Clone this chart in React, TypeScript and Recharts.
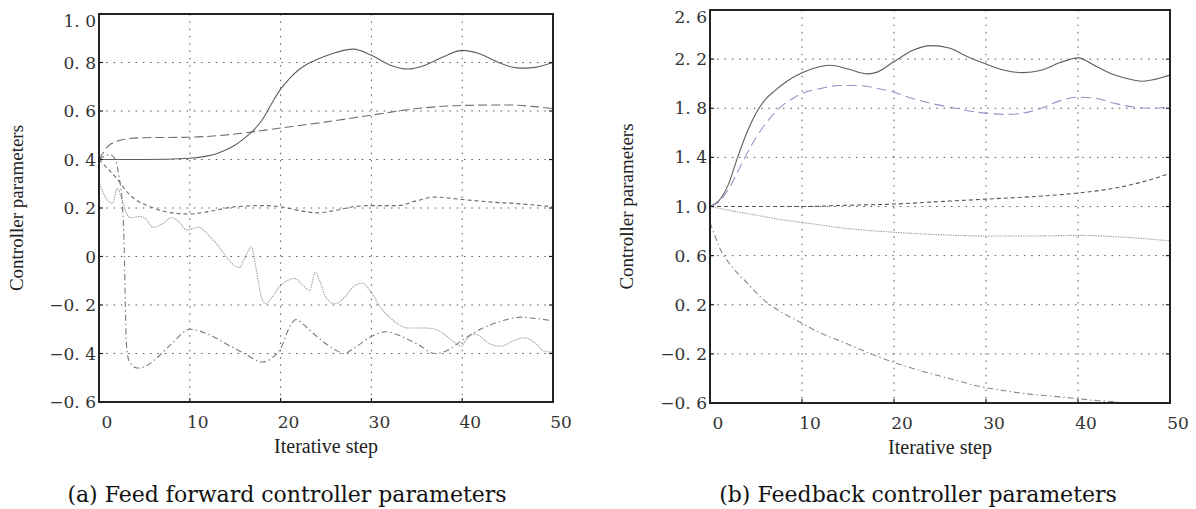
import { CartesianGrid, Line, LineChart, ReferenceArea, XAxis, YAxis } from "recharts";

// x ticks are shared by both panels
const xTicks = [0, 10, 20, 30, 40, 50];
const ffYTicks = [-0.6, -0.4, -0.2, 0, 0.2, 0.4, 0.6, 0.8, 1.0];
const fbYTicks = [-0.6, -0.2, 0.2, 0.6, 1.0, 1.4, 1.8, 2.2, 2.6];

// (a) feed forward controller parameters, [step, value]
const ffSolid: [number, number][] = [
  [0, 0.4], [5, 0.4], [10, 0.405], [12, 0.415], [13, 0.425], [14, 0.44], [15, 0.46],
  [16, 0.487], [17, 0.52], [18, 0.565], [19, 0.63], [20, 0.69], [21, 0.735], [22, 0.77],
  [23, 0.795], [24, 0.812], [26, 0.84], [28, 0.855], [30, 0.83], [32, 0.79], [34, 0.773],
  [36, 0.79], [38, 0.825], [40, 0.85], [42, 0.835], [44, 0.8], [46, 0.778], [47, 0.777],
  [48, 0.78], [50, 0.8],
];
const ffLongDash: [number, number][] = [
  [0, 0.4], [0.5, 0.43], [1, 0.455], [2, 0.475], [3, 0.485], [5, 0.49], [10, 0.492],
  [15, 0.505], [20, 0.53], [25, 0.555], [30, 0.583], [35, 0.61], [40, 0.623], [45, 0.625],
  [48, 0.618], [50, 0.61],
];
const ffDash: [number, number][] = [
  [0, 0.4], [1, 0.36], [2, 0.32], [3, 0.27], [4, 0.235], [5, 0.215], [6, 0.2], [8, 0.18],
  [10, 0.175], [12, 0.185], [15, 0.205], [18, 0.21], [20, 0.205], [22, 0.19], [24, 0.18],
  [26, 0.19], [28, 0.205], [30, 0.21], [33, 0.21], [35, 0.23], [37, 0.245], [40, 0.235],
  [43, 0.225], [46, 0.218], [50, 0.205],
];
const ffDotted: [number, number][] = [
  [0, 0.31], [0.5, 0.26], [1, 0.23], [1.5, 0.22], [2, 0.28], [2.5, 0.24], [3, 0.18],
  [3.5, 0.16], [4.5, 0.165], [5, 0.16], [6, 0.12], [7, 0.135], [8, 0.16], [9, 0.135],
  [9.6, 0.11], [11, 0.12], [12, 0.09], [13, 0.05], [14, 0.0], [15, -0.04], [15.5, -0.045],
  [16, -0.01], [16.8, 0.04], [17.3, -0.05], [18, -0.18], [18.4, -0.195], [19, -0.17],
  [20, -0.12], [21, -0.095], [21.5, -0.09], [22.5, -0.12], [23.2, -0.14], [23.8, -0.065],
  [24.3, -0.1], [25, -0.17], [26, -0.195], [27, -0.17], [28, -0.125], [29, -0.11],
  [30, -0.15], [31, -0.21], [32, -0.25], [33, -0.28], [34, -0.295], [36, -0.295],
  [37, -0.3], [38, -0.32], [39, -0.35], [39.9, -0.37], [40.5, -0.34], [41.3, -0.32],
  [42, -0.33], [43, -0.36], [44.3, -0.37], [45.5, -0.35], [46.8, -0.335], [48, -0.355],
  [49, -0.39], [50, -0.395],
];
const ffDashDot: [number, number][] = [
  [0, 0.4], [1.2, 0.42], [1.8, 0.4], [2.2, 0.33], [2.6, 0.2], [2.8, 0.0], [2.9, -0.2],
  [3.0, -0.35], [3.3, -0.43], [4.2, -0.46], [5, -0.455], [6, -0.43], [8, -0.36],
  [10, -0.3], [12, -0.32], [14, -0.36], [16, -0.4], [18, -0.435], [19, -0.42], [20, -0.38],
  [21, -0.29], [21.7, -0.26], [22.5, -0.28], [24, -0.33], [26, -0.385], [27, -0.4],
  [28, -0.38], [30, -0.33], [31.6, -0.31], [33, -0.325], [35, -0.36], [37, -0.4],
  [38.5, -0.385], [40, -0.345], [42, -0.3], [44, -0.27], [46.6, -0.25], [48, -0.255],
  [50, -0.265],
];

// (b) feedback controller parameters
const fbSolid: [number, number][] = [
  [0, 1.0], [1, 1.05], [2, 1.18], [3, 1.4], [4, 1.6], [5, 1.76], [6, 1.87], [7, 1.94],
  [8, 2.0], [9, 2.05], [10, 2.09], [12, 2.14], [13, 2.15], [15, 2.12], [17, 2.08],
  [18, 2.09], [20, 2.18], [22, 2.27], [24, 2.31], [26, 2.29], [28, 2.22], [30, 2.16],
  [32, 2.11], [34, 2.09], [36, 2.11], [38, 2.17], [40, 2.21], [42, 2.14], [44, 2.07],
  [46, 2.03], [47, 2.02], [48, 2.03], [50, 2.07],
];
const fbPurple: [number, number][] = [
  [0, 1.0], [1, 1.04], [2, 1.14], [3, 1.28], [4, 1.43], [5, 1.56], [6, 1.67], [7, 1.76],
  [8, 1.83], [9, 1.88], [10, 1.92], [12, 1.96], [14, 1.985], [16, 1.985], [18, 1.965],
  [20, 1.93], [22, 1.88], [24, 1.84], [26, 1.81], [28, 1.78], [30, 1.76], [32, 1.75],
  [34, 1.76], [36, 1.8], [38, 1.86], [40, 1.89], [42, 1.88], [44, 1.84], [46, 1.81],
  [48, 1.8], [50, 1.81],
];
const fbDash: [number, number][] = [
  [0, 1.0], [5, 1.0], [10, 1.0], [15, 1.01], [20, 1.02], [25, 1.04], [30, 1.06],
  [35, 1.08], [40, 1.11], [44, 1.15], [47, 1.2], [50, 1.27],
];
const fbDotted: [number, number][] = [
  [0, 1.0], [2, 0.97], [5, 0.93], [8, 0.89], [10, 0.87], [15, 0.82], [20, 0.79],
  [25, 0.77], [30, 0.76], [35, 0.76], [40, 0.765], [45, 0.75], [50, 0.72],
];
const fbDashDot: [number, number][] = [
  [0, 0.87], [0.5, 0.77], [1, 0.67], [1.5, 0.6], [2.5, 0.5], [4, 0.38], [6, 0.23],
  [8, 0.13], [10, 0.05], [12, -0.03], [14, -0.09], [17, -0.185], [20, -0.27], [23, -0.34],
  [26, -0.4], [29, -0.46], [32, -0.5], [35, -0.53], [38, -0.55], [40, -0.565], [42, -0.58],
  [44, -0.59], [46, -0.605], [48, -0.62], [50, -0.63],
];

const toPts = (a: [number, number][]) => a.map(([x, y]) => ({ x, y }));

const fmt = (v: number) =>
  Math.abs(v) < 1e-9 ? "0" : (v < 0 ? "\u2212" : "") + Math.abs(v).toFixed(1).replace(".", ". ");

const tickFont = { fontFamily: "'DejaVu Serif', serif", fontSize: 17, fill: "#333" };
const titleFont = { fontFamily: "'Liberation Serif', serif", fontSize: 20, fill: "#222" };
const frame = { stroke: "#222", strokeWidth: 2 };

type Series = { data: [number, number][]; stroke: string; dash?: string };

type PanelProps = {
  left: number;
  width: number;
  plotLeft: number;
  plotTop: number;
  plotRight: number;
  plotBottom: number;
  yTicks: number[];
  series: Series[];
  yTitleX: number;
};

function Panel(p: PanelProps) {
  const yMin = p.yTicks[0];
  const yMax = p.yTicks[p.yTicks.length - 1];
  const height = 509;
  const xAxisH = 30;
  return (
    <div style={{ position: "absolute", left: p.left, top: 0 }}>
      <LineChart
        width={p.width}
        height={height}
        margin={{
          top: p.plotTop - 1,
          right: p.left + p.width - p.plotRight - 1,
          bottom: height - p.plotBottom - xAxisH,
          left: 0,
        }}
      >
        <CartesianGrid stroke="#555" strokeDasharray="1.5 5.8" />
        <XAxis
          type="number"
          dataKey="x"
          domain={[0, 50]}
          ticks={xTicks}
          interval={0}
          allowDataOverflow
          height={xAxisH}
          tickSize={0}
          tickMargin={0}
          tickLine={false}
          axisLine={frame}
          tick={(t: any) => (
            <g>
              <line x1={t.x} x2={t.x} y1={t.y} y2={t.y - 4} stroke="#222" strokeWidth={1.2} />
              <text x={t.x + 8} y={t.y + 26} textAnchor="middle" {...tickFont}>
                {t.payload.value}
              </text>
            </g>
          )}
          label={{ value: "Iterative step", position: "bottom", offset: 7, ...titleFont }}
        />
        <XAxis
          xAxisId="top"
          orientation="top"
          type="number"
          domain={[0, 50]}
          ticks={xTicks}
          interval={0}
          allowDataOverflow
          height={1}
          tickSize={0}
          tickMargin={0}
          tickLine={false}
          axisLine={frame}
          tick={(t: any) => (
            <line x1={t.x} x2={t.x} y1={t.y} y2={t.y + 4} stroke="#222" strokeWidth={1.2} />
          )}
        />
        <YAxis
          type="number"
          domain={[yMin, yMax]}
          ticks={p.yTicks}
          interval={0}
          allowDataOverflow
          width={p.plotLeft - p.left}
          tickSize={0}
          tickMargin={0}
          tickLine={false}
          axisLine={frame}
          tick={(t: any) => (
            <g>
              <line x1={t.x} x2={t.x + 4} y1={t.y} y2={t.y} stroke="#222" strokeWidth={1.2} />
              <text
                x={t.x - 3}
                y={t.y + 6 + (Math.abs(t.payload.value - yMax) < 1e-9 ? 7 : 0)}
                textAnchor="end"
                {...tickFont}
              >
                {fmt(t.payload.value)}
              </text>
            </g>
          )}
          label={{
            value: "Controller parameters",
            angle: -90,
            position: "insideLeft",
            offset: p.yTitleX,
            style: { textAnchor: "middle" },
            ...titleFont,
            fontSize: 19,
          }}
        />
        <YAxis
          yAxisId="right"
          orientation="right"
          type="number"
          domain={[yMin, yMax]}
          ticks={p.yTicks}
          interval={0}
          allowDataOverflow
          width={1}
          tickSize={0}
          tickMargin={0}
          tickLine={false}
          axisLine={frame}
          tick={(t: any) => (
            <line x1={t.x} x2={t.x - 4} y1={t.y} y2={t.y} stroke="#222" strokeWidth={1.2} />
          )}
        />
        {p.series.map((s, i) => (
          <Line
            key={i}
            data={toPts(s.data)}
            dataKey="y"
            type="monotone"
            stroke={s.stroke}
            strokeWidth={1.1}
            strokeDasharray={s.dash}
            dot={false}
            activeDot={false}
            isAnimationActive={false}
          />
        ))}
        <ReferenceArea
          x1={0}
          x2={50}
          y1={yMin}
          y2={yMax}
          fill="none"
          fillOpacity={0}
          stroke="#222"
          strokeWidth={2}
          ifOverflow="visible"
        />
      </LineChart>
    </div>
  );
}

const captionStyle = {
  position: "absolute" as const,
  top: 482,
  width: 600,
  textAlign: "center" as const,
  fontFamily: "'DejaVu Serif', serif",
  fontSize: 22,
  lineHeight: "26px",
  color: "#111",
};

export default function App() {
  return (
    <div
      style={{
        position: "absolute",
        left: 0,
        top: 0,
        width: 1196,
        height: 509,
        background: "#fff",
        overflow: "hidden",
      }}
    >
      <Panel
        left={0}
        width={600}
        plotLeft={99}
        plotTop={14}
        plotRight={553}
        plotBottom={402}
        yTicks={ffYTicks}
        yTitleX={16}
        series={[
          { data: ffSolid, stroke: "#5e5e5e" },
          { data: ffLongDash, stroke: "#6e6e6e", dash: "9 4" },
          { data: ffDash, stroke: "#6a6a6a", dash: "4 3" },
          { data: ffDotted, stroke: "#a2a2a2", dash: "1.5 1" },
          { data: ffDashDot, stroke: "#7a7a7a", dash: "6 3 1.5 3" },
        ]}
      />
      <Panel
        left={600}
        width={596}
        plotLeft={710}
        plotTop={10}
        plotRight={1170}
        plotBottom={403}
        yTicks={fbYTicks}
        yTitleX={26}
        series={[
          { data: fbSolid, stroke: "#5e5e5e" },
          { data: fbPurple, stroke: "#9a90c8", dash: "10 5" },
          { data: fbDash, stroke: "#555", dash: "4 3" },
          { data: fbDotted, stroke: "#a2a2a2", dash: "1.5 1" },
          { data: fbDashDot, stroke: "#8a8a8a", dash: "6 3 1.5 3" },
        ]}
      />
      <div style={{ ...captionStyle, left: -13 }}>(a) Feed forward controller parameters</div>
      <div style={{ ...captionStyle, left: 618 }}>(b) Feedback controller parameters</div>
    </div>
  );
}
